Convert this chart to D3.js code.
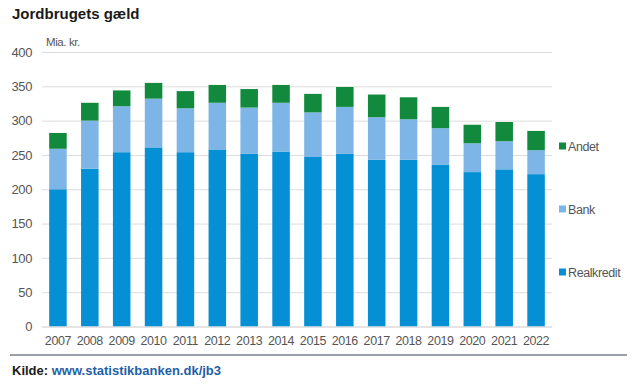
<!DOCTYPE html>
<html>
<head>
<meta charset="utf-8">
<script src="https://cdn.jsdelivr.net/npm/d3@7"></script>
<style>
  body { margin: 0; background: #fff; }
  svg { display: block; font-family: "Liberation Sans", Arial, sans-serif; }
  .lbl { font-family: "Liberation Sans", Arial, sans-serif; letter-spacing: -0.4px; }
</style>
</head>
<body>
<svg id="chart" width="640" height="384"></svg>
<script>
// data (Mia. kr.)
const years = ["2007","2008","2009","2010","2011","2012","2013","2014","2015","2016","2017","2018","2019","2020","2021","2022"];
const realkredit = [200, 230, 254, 261, 254, 258, 252, 255, 247, 252, 243, 243, 236, 225, 229, 222];
const bank       = [ 59,  70,  67,  71,  64,  68,  67,  71,  65,  68,  62,  59,  53,  42,  41,  35];
const andet      = [ 23,  26,  23,  23,  25,  26,  27,  26,  27,  29,  33,  32,  31,  27,  28,  28];
const yTicks = [0, 50, 100, 150, 200, 250, 300, 350, 400];

const seriesKeys = ["Realkredit", "Bank", "Andet"];
const colors = {Realkredit: "#0590d6", Bank: "#7db6e6", Andet: "#118a3e"};

const rows = years.map((y, i) => ({year: y, Realkredit: realkredit[i], Bank: bank[i], Andet: andet[i]}));
const stacked = d3.stack().keys(seriesKeys)(rows);

const svg = d3.select("#chart");
const plot = {left: 42, right: 552, top: 52, bottom: 326.5};

const x = d3.scaleBand().domain(years).range([plot.left, plot.right]).paddingInner(0.45).paddingOuter(0.225);
const y = d3.scaleLinear().domain([0, 400]).range([plot.bottom, plot.top]);

// title
svg.append("text")
    .attr("x", 12).attr("y", 19)
    .attr("font-size", 15).attr("font-weight", "bold").attr("fill", "#1a1a1a")
    .text("Jordbrugets gæld");

svg.append("text")
    .attr("class", "lbl")
    .attr("x", 46).attr("y", 46)
    .attr("font-size", 11.5).attr("fill", "#555")
    .text("Mia. kr.");

// grid + y labels
const yAxis = svg.append("g")
    .attr("transform", "translate(" + plot.left + ",0)")
    .call(d3.axisLeft(y).tickValues(yTicks).tickSize(-(plot.right - plot.left)).tickPadding(10));
yAxis.select(".domain").remove();
yAxis.selectAll(".tick line").attr("stroke", "#dcdcdc").attr("stroke-width", 1);
yAxis.selectAll(".tick text").attr("class", "lbl").attr("font-size", 13).attr("fill", "#555").attr("font-family", null);

// bars
svg.append("g").selectAll("g")
    .data(stacked)
    .join("g")
        .attr("fill", d => colors[d.key])
    .selectAll("rect")
    .data(d => d)
    .join("rect")
        .attr("x", d => x(d.data.year))
        .attr("width", x.bandwidth())
        .attr("y", d => y(d[1]))
        .attr("height", d => y(d[0]) - y(d[1]));

// x labels
const xAxis = svg.append("g")
    .attr("transform", "translate(0," + plot.bottom + ")")
    .call(d3.axisBottom(x).tickSize(0).tickPadding(10));
xAxis.select(".domain").attr("stroke", "#dcdcdc");
xAxis.selectAll(".tick text").attr("class", "lbl").attr("font-size", 12.5).attr("fill", "#555").attr("font-family", null);

// legend
const legendY = {Andet: 146, Bank: 209, Realkredit: 272};
const legend = svg.append("g").selectAll("g")
    .data(seriesKeys)
    .join("g")
        .attr("transform", d => "translate(559," + legendY[d] + ")");
legend.append("rect")
    .attr("x", 0).attr("y", -3.5).attr("width", 7).attr("height", 7)
    .attr("fill", d => colors[d]);
legend.append("text")
    .attr("class", "lbl")
    .attr("x", 9).attr("y", 4.5)
    .attr("font-size", 12.5).attr("fill", "#555")
    .text(d => d);

// footer
svg.append("line")
    .attr("x1", 10).attr("x2", 627).attr("y1", 355).attr("y2", 355)
    .attr("stroke", "#9aa0a6").attr("stroke-width", 2);

const src = svg.append("text")
    .attr("x", 12).attr("y", 375)
    .attr("font-size", 13).attr("font-weight", "bold");
src.append("tspan").attr("fill", "#1a1a1a").text("Kilde: ");
src.append("tspan").attr("fill", "#1f5fa6").text("www.statistikbanken.dk/jb3");
</script>
</body>
</html>
